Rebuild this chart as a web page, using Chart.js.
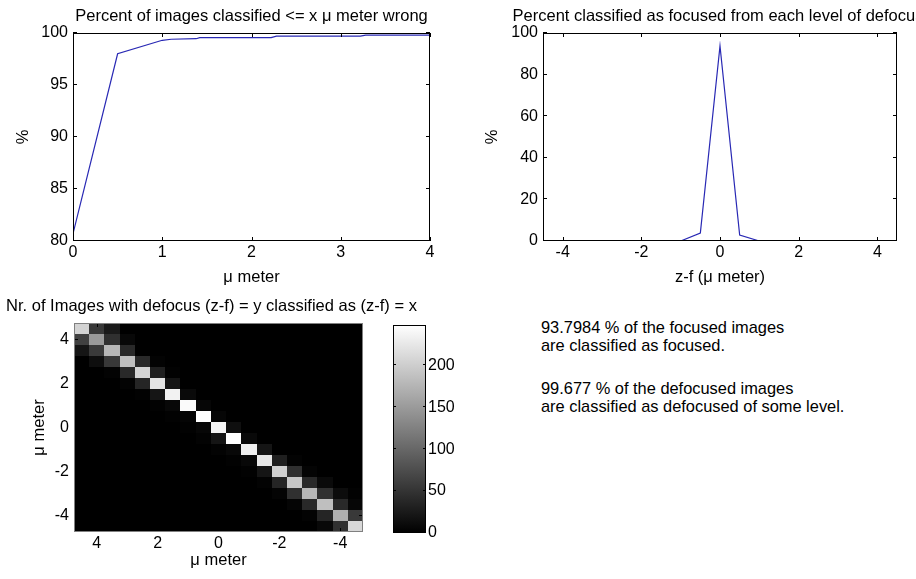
<!DOCTYPE html>
<html lang="en">
<head>
<meta charset="UTF-8">
<title>Defocus classification</title>
<script src="https://cdn.jsdelivr.net/npm/chart.js"></script>
<style>
    body { margin: 0; padding: 0; background: #fff; overflow: hidden; width: 916px; height: 579px; position: relative; }
    .panel { position: absolute; }
    .note { position: absolute; left: 541px; font: 16.4px "Liberation Sans", Arial, sans-serif; line-height: 18px; color: #000; white-space: nowrap; }
</style>
</head>
<body>

<div class="panel" style="left:0;top:0"><canvas id="errChart" width="440" height="290"></canvas></div>
<div class="panel" style="left:480px;top:0"><canvas id="focusChart" width="480" height="300"></canvas></div>
<div class="panel" style="left:0;top:290px"><canvas id="mapChart" width="470" height="289"></canvas></div>
<div class="panel" style="left:380px;top:310px"><canvas id="barChart" width="80" height="269"></canvas></div>

<div class="note" style="top:318px">93.7984 % of the focused images<br>are classified as focused.</div>
<div class="note" style="top:379px">99.677 % of the defocused images<br>are classified as defocused of some level.</div>

<script>
    // Percent of images classified <= x um wrong
    const errX = [0, 0.5, 1.0, 1.1, 1.38, 1.42, 2.22, 2.28, 3.22, 3.28, 4];
    const errPct = [80.7, 98.0, 99.3, 99.4, 99.45, 99.55, 99.55, 99.7, 99.7, 99.8, 99.8];
    const errXTicks = [0, 1, 2, 3, 4];
    const errYTicks = [80, 85, 90, 95, 100];

    // Percent classified as focused per defocus level
    const defocus = [-4.5, -4, -3.5, -3, -2.5, -2, -1.5, -1, -0.5, 0, 0.5, 1, 1.5, 2, 2.5, 3, 3.5, 4, 4.5];
    const focusedPct = [0, 0, 0, 0, 0, 0, 0, 0, 3.8, 93.8, 2.9, 0, 0, 0, 0, 0, 0, 0, 0];
    const focusXTicks = [-4, -2, 0, 2, 4];
    const focusYTicks = [0, 20, 40, 60, 80, 100];

    // counts: rows y = 4.5 .. -4.5 (top to bottom), columns x = 4.5 .. -4.5 (left to right)
    const cellCenters = [4.5, 4, 3.5, 3, 2.5, 2, 1.5, 1, 0.5, 0, -0.5, -1, -1.5, -2, -2.5, -3, -3.5, -4, -4.5];
    const counts = [
        [205, 55, 25, 0, 0, 0, 0, 0, 0, 0, 0, 0, 0, 0, 0, 0, 0, 0, 0],
        [62, 150, 47, 8, 0, 0, 0, 0, 0, 0, 0, 0, 0, 0, 0, 0, 0, 0, 0],
        [20, 56, 178, 40, 0, 0, 0, 0, 0, 0, 0, 0, 0, 0, 0, 0, 0, 0, 0],
        [0, 14, 54, 186, 40, 3, 0, 0, 0, 0, 0, 0, 0, 0, 0, 0, 0, 0, 0],
        [0, 0, 3, 40, 206, 31, 2, 0, 0, 0, 0, 0, 0, 0, 0, 0, 0, 0, 0],
        [0, 0, 0, 3, 36, 222, 20, 0, 0, 0, 0, 0, 0, 0, 0, 0, 0, 0, 0],
        [0, 0, 0, 0, 2, 20, 235, 10, 0, 0, 0, 0, 0, 0, 0, 0, 0, 0, 0],
        [0, 0, 0, 0, 0, 2, 8, 243, 6, 0, 0, 0, 0, 0, 0, 0, 0, 0, 0],
        [0, 0, 0, 0, 0, 0, 2, 5, 248, 6, 0, 0, 0, 0, 0, 0, 0, 0, 0],
        [0, 0, 0, 0, 0, 0, 0, 2, 7, 238, 15, 0, 0, 0, 0, 0, 0, 0, 0],
        [0, 0, 0, 0, 0, 0, 0, 0, 3, 20, 248, 9, 0, 0, 0, 0, 0, 0, 0],
        [0, 0, 0, 0, 0, 0, 0, 0, 0, 3, 8, 232, 20, 0, 0, 0, 0, 0, 0],
        [0, 0, 0, 0, 0, 0, 0, 0, 0, 0, 2, 8, 225, 30, 3, 0, 0, 0, 0],
        [0, 0, 0, 0, 0, 0, 0, 0, 0, 0, 0, 2, 20, 202, 47, 4, 0, 0, 0],
        [0, 0, 0, 0, 0, 0, 0, 0, 0, 0, 0, 0, 3, 36, 194, 40, 10, 0, 0],
        [0, 0, 0, 0, 0, 0, 0, 0, 0, 0, 0, 0, 0, 4, 47, 178, 47, 12, 2],
        [0, 0, 0, 0, 0, 0, 0, 0, 0, 0, 0, 0, 0, 0, 5, 40, 186, 40, 6],
        [0, 0, 0, 0, 0, 0, 0, 0, 0, 0, 0, 0, 0, 0, 0, 3, 36, 171, 55],
        [0, 0, 0, 0, 0, 0, 0, 0, 0, 0, 0, 0, 0, 0, 0, 0, 8, 47, 210]
    ];
    const mapTicks = [-4, -2, 0, 2, 4];
    const barTicks = [0, 50, 100, 150, 200];
    const countMax = 248;

    const FONT_FAMILY = '"Liberation Sans", Arial, sans-serif';
    const LINE_BLUE = '#2828b4';

    Chart.defaults.font.family = FONT_FAMILY;
    Chart.defaults.font.size = 16;
    Chart.defaults.color = '#000';

    // fix axis thickness so the plot boxes land where they should
    function fixedSize(size) {
        return function (scale) {
            if (scale.isHorizontal()) scale.height = size;
            else scale.width = size;
        };
    }
    function useTicks(values) {
        return function (scale) {
            scale.ticks = values.map(v => ({ value: v }));
        };
    }
    function axis(opts) {
        return {
            type: 'linear',
            position: opts.position,
            min: opts.min,
            max: opts.max,
            reverse: !!opts.reverse,
            afterFit: fixedSize(opts.size),
            afterBuildTicks: useTicks(opts.ticks),
            grid: { display: false, drawTicks: false },
            border: { display: false },
            ticks: {
                padding: opts.pad,
                autoSkip: false,
                maxRotation: 0,
                color: '#000',
                callback: v => String(v)
            }
        };
    }

    // matlab style box with inward tick marks, plus title and axis labels
    const matlabAxes = {
        id: 'matlabAxes',
        afterDraw(chart, args, o) {
            const { ctx, chartArea: a } = chart;
            const len = o.tickLen || 4;
            ctx.save();
            ctx.lineWidth = 1;
            ctx.strokeStyle = o.tickColor || '#000';
            ctx.beginPath();
            if (o.xTicks !== false) {
                chart.scales.x.ticks.forEach(t => {
                    const px = Math.round(chart.scales.x.getPixelForValue(t.value)) + 0.5;
                    ctx.moveTo(px, a.bottom); ctx.lineTo(px, a.bottom - len);
                    ctx.moveTo(px, a.top); ctx.lineTo(px, a.top + len);
                });
            }
            chart.scales.y.ticks.forEach(t => {
                const py = Math.round(chart.scales.y.getPixelForValue(t.value)) - 0.5;
                ctx.moveTo(a.left, py); ctx.lineTo(a.left + len, py);
                ctx.moveTo(a.right, py); ctx.lineTo(a.right - len, py);
            });
            ctx.stroke();
            ctx.strokeStyle = o.boxColor || '#000';
            ctx.strokeRect(a.left + 0.5, a.top + 0.5, a.right - a.left - 1, a.bottom - a.top - 1);

            ctx.fillStyle = '#000';
            ctx.font = '16.5px ' + FONT_FAMILY;
            ctx.textAlign = 'center';
            ctx.textBaseline = 'alphabetic';
            const cx = (a.left + a.right) / 2;
            if (o.title) ctx.fillText(o.title, cx + (o.titleDx || 0), a.top - o.titleGap);
            if (o.xlabel) ctx.fillText(o.xlabel, cx, a.bottom + o.xlabelGap);
            if (o.ylabel) {
                ctx.translate(a.left - o.ylabelGap, (a.top + a.bottom) / 2);
                ctx.rotate(-Math.PI / 2);
                ctx.textBaseline = 'middle';
                ctx.fillText(o.ylabel, 0, 0);
            }
            ctx.restore();
        }
    };

    // gray image cells drawn through the scales
    const grayCells = {
        id: 'grayCells',
        beforeDatasetsDraw(chart) {
            const { ctx, chartArea: a, scales } = chart;
            ctx.save();
            ctx.fillStyle = '#000';
            ctx.fillRect(a.left, a.top, a.right - a.left, a.bottom - a.top);
            chart.data.datasets[0].data.forEach(c => {
                const x1 = Math.round(scales.x.getPixelForValue(c.x + 0.25));
                const x2 = Math.round(scales.x.getPixelForValue(c.x - 0.25));
                const y1 = Math.round(scales.y.getPixelForValue(c.y + 0.25));
                const y2 = Math.round(scales.y.getPixelForValue(c.y - 0.25));
                const g = Math.round(Math.min(c.v / countMax, 1) * 255);
                ctx.fillStyle = 'rgb(' + g + ',' + g + ',' + g + ')';
                ctx.fillRect(Math.min(x1, x2), Math.min(y1, y2), Math.abs(x2 - x1), Math.abs(y2 - y1));
            });
            ctx.restore();
        }
    };

    const common = {
        responsive: false,
        animation: false,
        devicePixelRatio: 1,
        plugins: { legend: { display: false }, tooltip: { enabled: false } }
    };

    new Chart(document.getElementById('errChart'), {
        type: 'scatter',
        data: {
            datasets: [{
                data: errX.map((x, i) => ({ x: x, y: errPct[i] })),
                showLine: true,
                borderColor: LINE_BLUE,
                borderWidth: 1.2,
                pointRadius: 0,
                tension: 0
            }]
        },
        options: {
            ...common,
            layout: { padding: { top: 33, right: 10, left: 0, bottom: 0 } },
            scales: {
                x: axis({ position: 'bottom', min: 0, max: 4, ticks: errXTicks, size: 49, pad: 2 }),
                y: axis({ position: 'left', min: 80, max: 100, ticks: errYTicks, size: 73, pad: 5 })
            },
            plugins: {
                ...common.plugins,
                matlabAxes: { title: 'Percent of images classified <= x \u03bc meter wrong', titleGap: 12,
                    xlabel: '\u03bc meter', xlabelGap: 41, ylabel: '%', ylabelGap: 50 }
            }
        },
        plugins: [matlabAxes]
    });

    new Chart(document.getElementById('focusChart'), {
        type: 'scatter',
        data: {
            datasets: [{
                data: defocus.map((x, i) => ({ x: x, y: focusedPct[i] })),
                showLine: true,
                borderColor: LINE_BLUE,
                borderWidth: 1.2,
                pointRadius: 0,
                tension: 0
            }]
        },
        options: {
            ...common,
            layout: { padding: { top: 33, right: 63, left: 0, bottom: 0 } },
            scales: {
                x: axis({ position: 'bottom', min: -4.5, max: 4.5, ticks: focusXTicks, size: 59, pad: 2 }),
                y: axis({ position: 'left', min: 0, max: 100, ticks: focusYTicks, size: 63, pad: 5 })
            },
            plugins: {
                ...common.plugins,
                matlabAxes: { title: 'Percent classified as focused from each level of defocus', titleGap: 12,
                    titleDx: -2, xlabel: 'z-f (\u03bc meter)', xlabelGap: 41, ylabel: '%', ylabelGap: 51 }
            }
        },
        plugins: [matlabAxes]
    });

    const cells = [];
    counts.forEach((row, i) => row.forEach((v, j) => cells.push({ x: cellCenters[j], y: cellCenters[i], v: v })));

    new Chart(document.getElementById('mapChart'), {
        type: 'scatter',
        data: { datasets: [{ data: cells, pointRadius: 0, showLine: false }] },
        options: {
            ...common,
            layout: { padding: { top: 33, right: 107, left: 0, bottom: 0 } },
            scales: {
                x: axis({ position: 'bottom', min: -4.75, max: 4.75, reverse: true, ticks: mapTicks, size: 47, pad: 2 }),
                y: axis({ position: 'left', min: -4.75, max: 4.75, ticks: mapTicks, size: 74, pad: 5 })
            },
            plugins: {
                ...common.plugins,
                matlabAxes: { title: 'Nr. of Images with defocus (z-f) = y classified as (z-f) = x', titleGap: 12,
                    titleDx: -7, xlabel: '\u03bc meter', xlabelGap: 33, ylabel: '\u03bc meter', ylabelGap: 35,
                    boxColor: '#808080', tickColor: '#000' }
            }
        },
        plugins: [grayCells, matlabAxes]
    });

    new Chart(document.getElementById('barChart'), {
        type: 'bar',
        data: {
            labels: ['counts'],
            datasets: [{
                data: [[0, countMax]],
                barPercentage: 1,
                categoryPercentage: 1,
                borderWidth: 0,
                backgroundColor: function (c) {
                    const area = c.chart.chartArea;
                    if (!area) return '#888';
                    const g = c.chart.ctx.createLinearGradient(0, area.bottom, 0, area.top);
                    g.addColorStop(0, '#000');
                    g.addColorStop(1, '#fff');
                    return g;
                }
            }]
        },
        options: {
            ...common,
            layout: { padding: { top: 15, right: 0, left: 13, bottom: 46 } },
            scales: {
                x: { display: false },
                y: axis({ position: 'right', min: 0, max: countMax, ticks: barTicks, size: 34, pad: 2 })
            },
            plugins: {
                ...common.plugins,
                matlabAxes: { xTicks: false, tickLen: 3 }
            }
        },
        plugins: [matlabAxes]
    });
</script>

</body>
</html>
